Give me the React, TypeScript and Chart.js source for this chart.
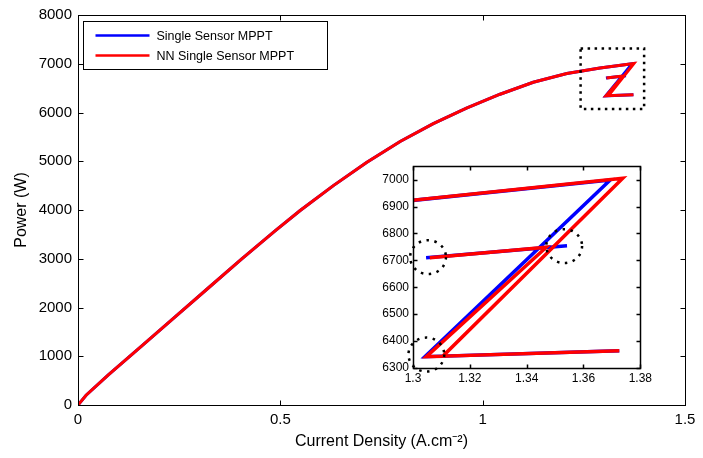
import React, { useEffect, useRef } from "react";
import { Chart, registerables } from "chart.js";

Chart.register(...registerables);

const FONT = "'Liberation Sans', Arial, Helvetica, sans-serif";

const seriesLabels = ["Single Sensor MPPT", "NN Single Sensor MPPT"];
const seriesColors = ["#0000ff", "#ff0000"];

// shared rising power curve: current density (A.cm-2) vs power (W)
const curveJ = [0, 0.02, 0.075, 0.157, 0.24, 0.322, 0.404, 0.487, 0.549, 0.631, 0.713, 0.796, 0.878, 0.96, 1.043, 1.125, 1.208, 1.29];
const curveP = [0, 200, 620, 1210, 1810, 2400, 2990, 3570, 3990, 4500, 4975, 5405, 5770, 6090, 6375, 6620, 6800, 6912];

// Single Sensor MPPT oscillation near the maximum power point
const singleZJ = [1.3694, 1.3042, 1.3726];
const singleZP = [6999, 6342, 6364];
const singleHookJ = [1.3046, 1.3542];
const singleHookP = [6710, 6754];

// NN Single Sensor MPPT oscillation near the maximum power point
const nnZJ = [1.3738, 1.3105, 1.3726];
const nnZP = [7005, 6344, 6364];
const nnHookJ = [1.3059, 1.3469, 1.3047, 1.3105];
const nnHookP = [6710, 6749, 6342, 6344];

const mainXTicks = [0, 0.5, 1, 1.5];
const mainYTicks = [0, 1000, 2000, 3000, 4000, 5000, 6000, 7000, 8000];
const insetXTicks = [1.3, 1.32, 1.34, 1.36, 1.38];
const insetYTicks = [6300, 6400, 6500, 6600, 6700, 6800, 6900, 7000];

// annotation marks (data coordinates)
const zoomBoxJ = [1.242, 1.399];
const zoomBoxP = [6070, 7315];
const circleJ = [1.3053, 1.3532, 1.3047];
const circleP = [6712, 6753, 6350];
const circleRJ = 0.0063;
const circleRP = 63;

const pts = (js: number[], ps: number[]) => js.map((x, i) => ({ x, y: ps[i] as number | null }));

function buildSeries(zJ: number[], zP: number[], hJ: number[], hP: number[]) {
  return [...pts(curveJ, curveP), ...pts(zJ, zP), { x: hJ[0], y: null }, ...pts(hJ, hP)];
}

function makeDatasets(width: number) {
  return [
    {
      label: seriesLabels[0],
      data: buildSeries(singleZJ, singleZP, singleHookJ, singleHookP),
      borderColor: seriesColors[0],
      backgroundColor: seriesColors[0],
      borderWidth: width,
      pointRadius: 0,
      tension: 0,
      spanGaps: false,
      order: 1,
    },
    {
      label: seriesLabels[1],
      data: buildSeries(nnZJ, nnZP, nnHookJ, nnHookP),
      borderColor: seriesColors[1],
      backgroundColor: seriesColors[1],
      borderWidth: width,
      pointRadius: 0,
      tension: 0,
      spanGaps: false,
      order: 0,
    },
  ];
}

function framePlugin(id: string, tickLen: number, lw: number) {
  return {
    id,
    afterDatasetsDraw(chart: any) {
      const { ctx, chartArea: a, scales } = chart;
      const L = Math.round(a.left) + 0.5;
      const R = Math.round(a.right) + 0.5;
      const T = Math.round(a.top) + 0.5;
      const B = Math.round(a.bottom) + 0.5;
      ctx.save();
      ctx.strokeStyle = "#000";
      ctx.lineWidth = lw;
      ctx.strokeRect(L, T, R - L, B - T);
      ctx.beginPath();
      scales.x.ticks.forEach((t: any) => {
        const px = Math.round(scales.x.getPixelForValue(t.value)) + 0.5;
        ctx.moveTo(px, B);
        ctx.lineTo(px, B - tickLen);
        ctx.moveTo(px, T);
        ctx.lineTo(px, T + tickLen);
      });
      scales.y.ticks.forEach((t: any) => {
        const py = Math.round(scales.y.getPixelForValue(t.value)) + 0.5;
        ctx.moveTo(L, py);
        ctx.lineTo(L + tickLen, py);
        ctx.moveTo(R, py);
        ctx.lineTo(R - tickLen, py);
      });
      ctx.stroke();
      ctx.restore();
    },
  };
}

const legendPlugin = {
  id: "boxLegend",
  afterDraw(chart: any) {
    const { ctx, chartArea: a } = chart;
    const x0 = Math.round(a.left) + 5.5;
    const y0 = Math.round(a.top) + 6.5;
    const w = 244;
    const h = 48;
    ctx.save();
    ctx.fillStyle = "#fff";
    ctx.fillRect(x0, y0, w, h);
    ctx.strokeStyle = "#000";
    ctx.lineWidth = 1;
    ctx.strokeRect(x0, y0, w, h);
    chart.data.datasets.forEach((ds: any, i: number) => {
      const y = y0 + 14 + i * 20;
      ctx.strokeStyle = ds.borderColor;
      ctx.lineWidth = 2.5;
      ctx.beginPath();
      ctx.moveTo(x0 + 12, y);
      ctx.lineTo(x0 + 66, y);
      ctx.stroke();
      ctx.fillStyle = "#000";
      ctx.font = `12.5px ${FONT}`;
      ctx.textBaseline = "middle";
      ctx.textAlign = "left";
      ctx.fillText(ds.label, x0 + 73, y + 1);
    });
    ctx.restore();
  },
};

const zoomBoxPlugin = {
  id: "zoomBox",
  afterDatasetsDraw(chart: any) {
    const { ctx, scales } = chart;
    const x1 = scales.x.getPixelForValue(zoomBoxJ[0]);
    const x2 = scales.x.getPixelForValue(zoomBoxJ[1]);
    const y1 = scales.y.getPixelForValue(zoomBoxP[1]);
    const y2 = scales.y.getPixelForValue(zoomBoxP[0]);
    ctx.save();
    ctx.strokeStyle = "#000";
    ctx.lineWidth = 2.5;
    ctx.setLineDash([2.5, 4.5]);
    ctx.strokeRect(x1, y1, x2 - x1, y2 - y1);
    ctx.restore();
  },
};

const insetBgPlugin = {
  id: "insetBg",
  beforeDatasetsDraw(chart: any) {
    const { ctx, chartArea: a } = chart;
    ctx.save();
    ctx.fillStyle = "#fff";
    ctx.fillRect(a.left, a.top, a.right - a.left, a.bottom - a.top);
    ctx.restore();
  },
};

const circlesPlugin = {
  id: "circles",
  afterDraw(chart: any) {
    const { ctx, scales } = chart;
    ctx.save();
    ctx.strokeStyle = "#000";
    ctx.lineWidth = 2.5;
    ctx.setLineDash([2.5, 5.5]);
    circleJ.forEach((j, i) => {
      const cx = scales.x.getPixelForValue(j);
      const cy = scales.y.getPixelForValue(circleP[i]);
      const rx = Math.abs(scales.x.getPixelForValue(j + circleRJ) - cx);
      const ry = Math.abs(scales.y.getPixelForValue(circleP[i] + circleRP) - cy);
      ctx.beginPath();
      ctx.ellipse(cx, cy, rx, ry, 0, 0, Math.PI * 2);
      ctx.stroke();
    });
    ctx.restore();
  },
};

const fmt = (v: any) => String(Number(Number(v).toFixed(2)));

function axis(min: number, max: number, tickVals: number[], fontSize: number, pad: number, extra: any) {
  return {
    type: "linear",
    min,
    max,
    afterBuildTicks: (s: any) => {
      s.ticks = tickVals.map((value) => ({ value }));
    },
    grid: { display: false, drawTicks: false, tickLength: 0 },
    border: { display: false },
    ticks: {
      padding: pad,
      color: "#000",
      font: { family: FONT, size: fontSize },
      maxRotation: 0,
      autoSkip: false,
      callback: fmt,
    },
    ...extra,
  };
}

export default function App() {
  const mainRef = useRef<HTMLCanvasElement>(null);
  const insetRef = useRef<HTMLCanvasElement>(null);

  useEffect(() => {
    const main = new Chart(mainRef.current as HTMLCanvasElement, {
      type: "line",
      data: { datasets: makeDatasets(3) as any },
      options: {
        responsive: false,
        animation: false,
        events: [],
        layout: { padding: { left: 0, right: 18, top: 12, bottom: 0 } },
        plugins: { legend: { display: false }, tooltip: { enabled: false } },
        scales: {
          x: axis(0, 1.5, mainXTicks, 15, 6, {
            afterFit: (s: any) => {
              s.height = 53;
            },
            title: {
              display: true,
              text: "Current Density (A.cm⁻²)",
              color: "#000",
              font: { family: FONT, size: 16 },
              padding: { top: 0, bottom: 7 },
            },
          }),
          y: axis(0, 8000, mainYTicks, 15, 6, {
            afterFit: (s: any) => {
              s.width = 78;
            },
            title: {
              display: true,
              text: "Power (W)",
              color: "#000",
              font: { family: FONT, size: 16 },
              padding: { top: 12, bottom: 0 },
            },
          }),
        },
      } as any,
      plugins: [framePlugin("mainFrame", 5, 1), zoomBoxPlugin, legendPlugin],
    });

    const inset = new Chart(insetRef.current as HTMLCanvasElement, {
      type: "line",
      data: { datasets: makeDatasets(3.5) as any },
      options: {
        responsive: false,
        animation: false,
        events: [],
        layout: { padding: { left: 0, right: 11, top: 10, bottom: 0 } },
        plugins: { legend: { display: false }, tooltip: { enabled: false } },
        scales: {
          x: axis(1.3, 1.38, insetXTicks, 12, 3, {
            afterFit: (s: any) => {
              s.height = 17;
            },
          }),
          y: axis(6300, 7050, insetYTicks, 12, 4, {
            afterFit: (s: any) => {
              s.width = 38;
            },
          }),
        },
      } as any,
      plugins: [insetBgPlugin, framePlugin("insetFrame", 4, 1.5), circlesPlugin],
    });

    return () => {
      main.destroy();
      inset.destroy();
    };
  }, []);

  return (
    <div style={{ position: "fixed", left: 0, top: 0, width: 703, height: 458, background: "#fff" }}>
      <canvas ref={mainRef} width={703} height={458} style={{ position: "absolute", left: 0, top: 0 }} />
      <canvas ref={insetRef} width={280} height={230} style={{ position: "absolute", left: 375, top: 155 }} />
    </div>
  );
}
